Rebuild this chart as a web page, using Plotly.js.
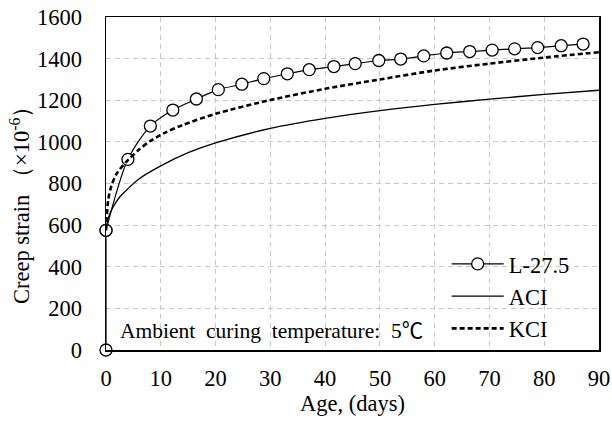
<!DOCTYPE html>
<html><head><meta charset="utf-8">
<script src="https://cdn.plot.ly/plotly-3.0.1.min.js"></script>
<style>body{margin:0;background:#fff}#c{width:612px;height:424px}</style>
</head><body><div id="c"></div>
<script>
// L-27.5 measured data
const lDays = [0, 4, 8.1, 12.2, 16.5, 20.5, 24.8, 28.8, 33.1, 37.1, 41.6, 45.5, 49.8, 53.8, 58, 62.2, 66.4, 70.5, 74.6, 78.8, 83.1, 87.1];
const lStrain = [575, 916, 1076, 1153, 1206, 1251, 1277, 1304, 1327, 1347, 1362, 1376, 1391, 1398, 1413, 1427, 1434, 1441, 1447, 1453, 1462, 1470];
// initial loading point
const initDays = [0, 0];
const initStrain = [0, 575];
// ACI prediction
const aciDays = [0, 0.5, 1.3, 2.5, 4, 6, 10, 15, 20, 30, 40, 50, 60, 70, 80, 90];
const aciStrain = [575, 640, 687, 735, 775, 822, 885, 948, 995, 1065, 1113, 1150, 1180, 1205, 1228, 1248];
// KCI prediction
const kciDays = [0, 0.4, 1, 2, 4, 6, 8, 11, 14, 20, 30, 40, 50, 60, 70, 80, 90];
const kciStrain = [575, 720, 790, 850, 912, 962, 1003, 1047, 1081, 1135, 1201, 1255, 1300, 1343, 1376, 1405, 1431];
const xTicks = [0, 10, 20, 30, 40, 50, 60, 70, 80, 90];
const yTicks = [0, 200, 400, 600, 800, 1000, 1200, 1400, 1600];

const font = {family: '"Liberation Serif", "Times New Roman", serif', size: 22.5, color: '#000'};
const mk = {symbol: 'circle', size: 12, color: '#fff', line: {color: '#000', width: 1.3}};

const traces = [
  {x: initDays, y: initStrain, mode: 'lines+markers', line: {color: '#000', width: 1.2}, marker: mk, showlegend: false, cliponaxis: false, hoverinfo: 'skip'},
  {x: lDays, y: lStrain, name: 'L-27.5', mode: 'lines+markers', line: {color: '#000', width: 1.2, shape: 'spline', smoothing: 0.8}, marker: mk, cliponaxis: false},
  {x: aciDays, y: aciStrain, name: 'ACI', mode: 'lines', line: {color: '#000', width: 1.3, shape: 'spline', smoothing: 0.8}},
  {x: kciDays, y: kciStrain, name: 'KCI', mode: 'lines', line: {color: '#000', width: 2.6, dash: '5px,3px', shape: 'spline', smoothing: 0.8}}
];

const layout = {
  width: 612, height: 424,
  margin: {l: 106, r: 13, t: 17, b: 74},
  paper_bgcolor: '#fff', plot_bgcolor: '#fff',
  font: font,
  showlegend: true,
  legend: {x: 0.691, y: 0.322, xanchor: 'left', yanchor: 'top', bgcolor: 'rgba(0,0,0,0)', font: font, itemwidth: 52, tracegroupgap: 0},
  xaxis: {
    range: [0, 90], tickvals: xTicks, ticktext: xTicks.map(String),
    showline: true, linecolor: '#000', linewidth: 1.5, mirror: true,
    showgrid: true, gridcolor: '#c8c8c8', griddash: '5px,4px', gridwidth: 1,
    zeroline: false, ticks: '', ticklabelstandoff: 7,
    title: {text: 'Age, (days)', font: font, standoff: 0}
  },
  yaxis: {
    range: [0, 1600], tickvals: yTicks, ticktext: yTicks.map(String),
    showline: true, linecolor: '#000', linewidth: 1.5, mirror: true,
    showgrid: true, gridcolor: '#c8c8c8', griddash: '5px,4px', gridwidth: 1,
    zeroline: false, ticks: '', ticklabelstandoff: 18
  },
  annotations: [
    {text: 'Creep strain \uff08\u00d710<sup>-6</sup>\uff09', xref: 'paper', yref: 'paper',
     x: (20 - 106) / 493, y: (350 - 200) / 333, xanchor: 'center', yanchor: 'middle', textangle: -90,
     showarrow: false, font: font},
    {text: 'Ambient\u00a0 curing\u00a0 temperature:\u00a0 5<span style="font-family:\'Noto Sans CJK SC\'">\u2103</span>', xref: 'paper', yref: 'paper',
     x: (118 - 106) / 493, y: (350 - 328) / 333, xanchor: 'left', yanchor: 'middle',
     showarrow: false, font: {family: font.family, size: 21.5, color: '#000'}}
  ]
};
Plotly.newPlot('c', traces, layout, {displayModeBar: false, staticPlot: true});
</script></body></html>
